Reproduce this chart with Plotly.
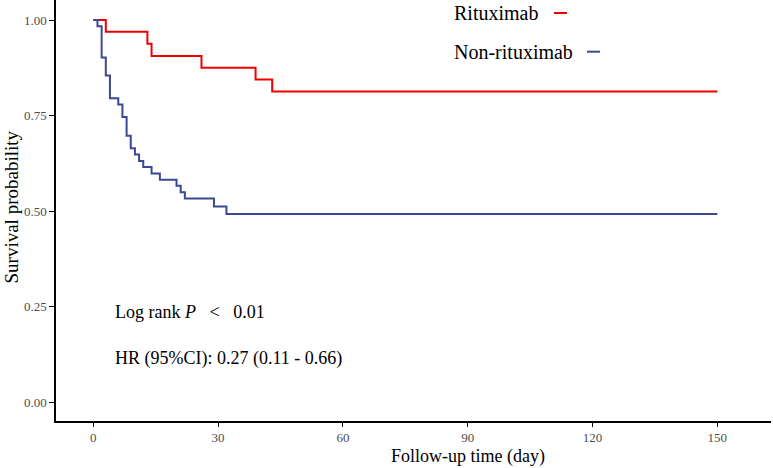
import plotly.graph_objects as go

# ---- data ----
rituximab_time = [0, 3, 13, 14, 26, 39, 43, 150]
rituximab_surv = [1.0, 0.969, 0.938, 0.906, 0.875, 0.844, 0.813, 0.813]

nonrit_time = [0, 1, 2, 3, 4, 6, 7, 8, 9, 10, 11, 12, 14, 16, 20, 21, 22, 29, 32, 150]
nonrit_surv = [1.0, 0.984, 0.902, 0.855, 0.795, 0.779, 0.746, 0.697, 0.664, 0.648,
               0.631, 0.615, 0.598, 0.582, 0.566, 0.549, 0.533, 0.512, 0.492, 0.492]

x_ticks = [0, 30, 60, 90, 120, 150]
y_ticks = [0, 0.25, 0.5, 0.75, 1.0]
y_tick_labels = ["0.00", "0.25", "0.50", "0.75", "1.00"]

series_names = ["Rituximab", "Non-rituximab"]
RED = "#EE0000"
BLUE = "#3B4992"

W, H = 773, 468
ML, MR, MT, MB = 56, 2, 0, 47
PW, PH = W - ML - MR, H - MT - MB

def px(xp):
    return (xp - ML) / PW

def py(yp):
    return 1 - (yp - MT) / PH

FONT = "Liberation Serif"
NB = "\u00a0"

fig = go.Figure()
fig.add_trace(go.Scatter(x=rituximab_time, y=rituximab_surv, mode="lines",
                         line=dict(color=RED, width=2, shape="hv"),
                         name=series_names[0], showlegend=False))
fig.add_trace(go.Scatter(x=nonrit_time, y=nonrit_surv, mode="lines",
                         line=dict(color=BLUE, width=2, shape="hv"),
                         name=series_names[1], showlegend=False))

annotations = [
    dict(text="Log rank <i>P</i>" + NB * 3 + "<" + NB * 3 + "0.01", x=px(113), y=py(311.7),
         xref="paper", yref="paper", xanchor="left", yanchor="middle",
         showarrow=False, font=dict(family=FONT, size=18, color="black")),
    dict(text="HR (95%CI): 0.27 (0.11 - 0.66)", x=px(113), y=py(358),
         xref="paper", yref="paper", xanchor="left", yanchor="middle",
         showarrow=False, font=dict(family=FONT, size=18, color="black")),
    dict(text="Follow-up time (day)", x=px(467.5), y=py(456),
         xref="paper", yref="paper", xanchor="center", yanchor="middle",
         showarrow=False, font=dict(family=FONT, size=18, color="black")),
    dict(text="Survival probability", x=px(11), y=py(207.5), textangle=-90,
         xref="paper", yref="paper", xanchor="center", yanchor="middle",
         showarrow=False, font=dict(family=FONT, size=19, color="black")),
    dict(text=series_names[0], x=px(452), y=py(13),
         xref="paper", yref="paper", xanchor="left", yanchor="middle",
         showarrow=False, font=dict(family=FONT, size=20, color="black")),
    dict(text=series_names[1], x=px(452), y=py(51.7),
         xref="paper", yref="paper", xanchor="left", yanchor="middle",
         showarrow=False, font=dict(family=FONT, size=20, color="black")),
]

shapes = [
    dict(type="line", xref="paper", yref="paper", x0=px(554), x1=px(567),
         y0=py(13), y1=py(13), line=dict(color=RED, width=2)),
    dict(type="line", xref="paper", yref="paper", x0=px(587), x1=px(600),
         y0=py(51.7), y1=py(51.7), line=dict(color=BLUE, width=2)),
]

fig.update_layout(
    width=W, height=H,
    margin=dict(l=ML, r=MR, t=MT, b=MB, pad=0),
    paper_bgcolor="white", plot_bgcolor="white",
    annotations=annotations, shapes=shapes,
    font=dict(family=FONT),
)
fig.update_xaxes(range=[-8.97, 162.9], tickvals=x_ticks, ticks="outside", ticklen=4,
                 tickwidth=1.2, tickcolor="black", showline=True, linecolor="black",
                 linewidth=1.5, showgrid=False, zeroline=False,
                 tickfont=dict(family=FONT, size=13, color="#4D4D4D"))
fig.update_yaxes(range=[-0.0497, 1.0524], tickvals=y_ticks, ticktext=y_tick_labels,
                 ticks="outside", ticklen=5, tickwidth=1.2, tickcolor="black",
                 showline=True, linecolor="black", linewidth=1.5, showgrid=False,
                 zeroline=False, tickfont=dict(family=FONT, size=13, color="#4D4D4D"))

fig.write_html("out.html")
